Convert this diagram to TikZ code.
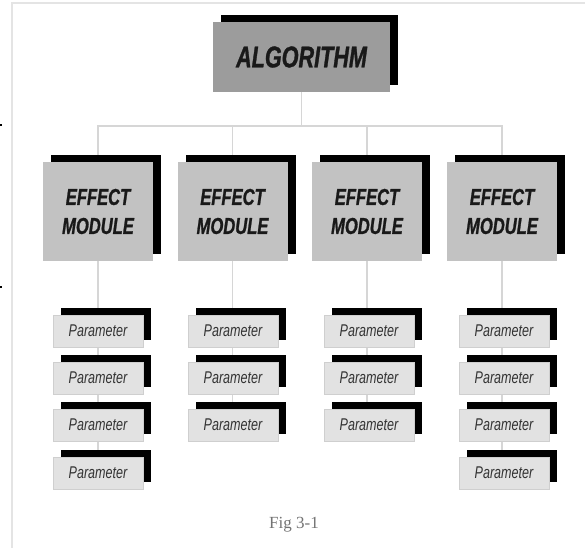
\documentclass[tikz,border=0pt]{standalone}
\usepackage{fontspec}
\usetikzlibrary{shadows,backgrounds}
\newfontfamily\headfont[FakeStretch=0.72,FakeBold=1]{Liberation Sans Bold Italic}
\newfontfamily\parfont[FakeStretch=0.74]{Liberation Sans Italic}
\newfontfamily\capfont{Liberation Serif}
\definecolor{algfill}{HTML}{9C9C9C}
\definecolor{modfill}{HTML}{C2C2C2}
\definecolor{parfill}{HTML}{E2E2E2}
\definecolor{paredge}{HTML}{CFCFCF}
\definecolor{wire}{HTML}{D6D6D6}
\definecolor{frame}{HTML}{E4E4E4}
\tikzset{
  blockshadow/.style={drop shadow={shadow xshift=8pt,shadow yshift=7pt,fill=black,opacity=1}},
  algbox/.style={blockshadow,fill=algfill,minimum width=177pt,minimum height=70pt,inner sep=0pt,
    font=\headfont\fontsize{30}{30}\selectfont,text=black!90},
  modbox/.style={blockshadow,fill=modfill,minimum width=110pt,minimum height=99pt,inner sep=0pt,
    align=center,font=\headfont\fontsize{23}{29}\selectfont,text=black!90},
  parbox/.style={blockshadow,fill=parfill,draw=paredge,line width=0.6pt,minimum width=90pt,
    minimum height=32pt,inner sep=0pt,font=\parfont\fontsize{17}{17}\selectfont,text=black!80},
  wireline/.style={draw=wire,line width=1.1pt},
}
\begin{document}
\begin{tikzpicture}[x=1pt,y=-1pt]
\useasboundingbox (0,0) rectangle (585,548);
% page frame
\draw[frame,line width=2pt] (12,548) -- (12,3) -- (585,3);
\fill[black] (0,124) rectangle (2,126);
\fill[black] (0,286) rectangle (2,288);

% top block
\node[algbox] (alg) at (301.5,57) {ALGORITHM};

% effect modules
\foreach \i/\x in {1/98,2/232.5,3/367,4/502}
  \node[modbox] (m\i) at (\x,211.5) {EFFECT\\MODULE};

% parameter blocks
\foreach \r/\y in {1/331,2/378,3/425,4/473} {
  \node[parbox] (p1\r) at (98,\y) {Parameter};
  \node[parbox] (p4\r) at (504,\y) {Parameter};
}
\foreach \r/\y in {1/331,2/378,3/425} {
  \node[parbox] (p2\r) at (233,\y) {Parameter};
  \node[parbox] (p3\r) at (369,\y) {Parameter};
}

% connectors
\coordinate (bus) at (301.5,126);
\begin{pgfonlayer}{background}
  \draw[wireline] (alg.south) -- (bus);
  \draw[wireline] (m1.north) |- (bus) -| (m4.north);
  \draw[wireline] (m2.north) -- (m2.north |- bus);
  \draw[wireline] (m3.north) -- (m3.north |- bus);
  \draw[wireline] (m1.south) -- (m1.south |- p14.north);
  \draw[wireline] (m2.south) -- (m2.south |- p23.north);
  \draw[wireline] (m3.south) -- (m3.south |- p33.north);
  \draw[wireline] (m4.south) -- (m4.south |- p44.north);
\end{pgfonlayer}

% caption
\node[font=\capfont\fontsize{17}{17}\selectfont,text=black!55] (cap) at (294,525) {Fig 3-1};
\end{tikzpicture}
\end{document}
